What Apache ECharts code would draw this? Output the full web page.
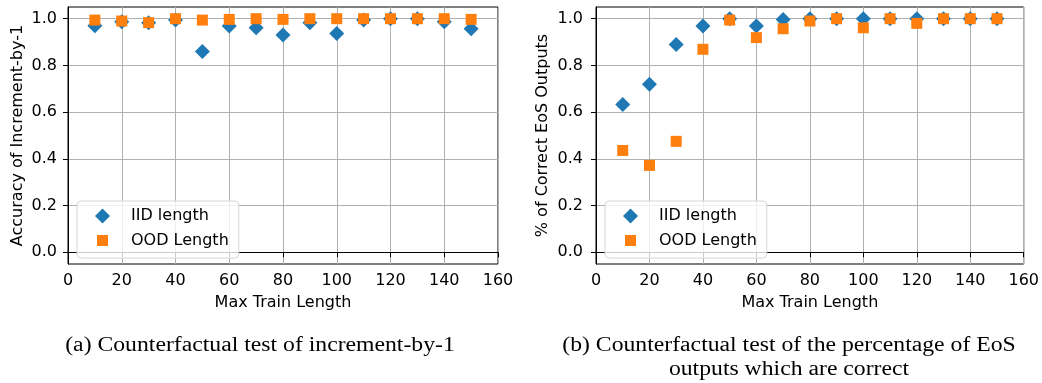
<!DOCTYPE html>
<html>
<head>
<meta charset="utf-8">
<script src="https://cdn.jsdelivr.net/npm/echarts@6/dist/echarts.min.js"></script>
<style>
	html, body { margin: 0; padding: 0; background: #fff; }
	#chart { width: 1042px; height: 383px; }
</style>
</head>
<body>
<div id="chart"></div>
<script>
const maxTrainLength = [10, 20, 30, 40, 50, 60, 70, 80, 90, 100, 110, 120, 130, 140, 150];
const yTicks = [0, 0.2, 0.4, 0.6, 0.8, 1.0];

// (a) increment-by-1 accuracy
const incIID = [0.97, 0.987, 0.983, 0.994, 0.859, 0.969, 0.961, 0.93, 0.983, 0.937, 0.994, 1.0, 1.0, 0.987, 0.957];
const incOOD = [0.994, 0.99, 0.983, 1.0, 0.994, 0.997, 1.0, 0.997, 1.0, 1.0, 1.0, 1.0, 1.0, 1.0, 0.997];

// (b) correct EoS outputs
const eosIID = [0.633, 0.719, 0.89, 0.969, 1.0, 0.969, 0.997, 1.0, 1.0, 1.0, 1.0, 1.0, 1.0, 1.0, 1.0];
const eosOOD = [0.436, 0.372, 0.475, 0.869, 0.994, 0.919, 0.957, 0.99, 1.0, 0.961, 1.0, 0.98, 1.0, 1.0, 1.0];

const BLUE = "#1f77b4";
const ORANGE = "#ff7f0e";
const FONT = "DejaVu Sans";

const pairs = ys => maxTrainLength.map((x, i) => [x, ys[i]]);

const grids = [
	{ left: 68, right: 544, top: 7, bottom: 119 },
	{ left: 596, right: 16, top: 7, bottom: 119 },
];

const xAxis = grids.map((g, i) => ({
	type: "value",
	gridIndex: i,
	min: 0,
	max: 160,
	interval: 20,
	name: "Max Train Length",
	nameLocation: "middle",
	nameGap: 31,
	nameTextStyle: { fontFamily: FONT, fontSize: 16, color: "#000" },
	axisLine: { lineStyle: { color: "#000", width: 1 } },
	axisTick: { length: 5, lineStyle: { color: "#000" } },
	axisLabel: { fontFamily: FONT, fontSize: 16, color: "#000", margin: 9, showMinLabel: true, showMaxLabel: true },
	splitLine: { show: true, lineStyle: { color: "#b0b0b0", width: 1 } },
}));

const yNames = ["Accuracy of Increment-by-1", "% of Correct EoS Outputs"];
const yAxis = grids.map((g, i) => ({
	type: "value",
	gridIndex: i,
	min: -0.05,
	max: 1.05,
	name: yNames[i],
	nameLocation: "middle",
	nameGap: i === 0 ? 42 : 45,
	nameTextStyle: { fontFamily: FONT, fontSize: 16, color: "#000" },
	axisLine: { show: true, lineStyle: { color: "#000", width: 1 } },
	axisTick: { show: true, length: 5, lineStyle: { color: "#000" }, customValues: yTicks },
	axisLabel: {
		fontFamily: FONT, fontSize: 16, color: "#000", margin: i === 0 ? 11 : 13,
		customValues: yTicks,
		formatter: v => v.toFixed(1),
	},
	splitLine: { show: true, lineStyle: { color: "#b0b0b0", width: 1 } },
}));

const mk = (name, data, i, symbol, color, size) => ({
	name,
	type: "scatter",
	xAxisIndex: i,
	yAxisIndex: i,
	symbol,
	symbolSize: size,
	clip: false,
	itemStyle: { color, opacity: 1 },
	data: pairs(data),
});

const series = [
	mk("IID length", incIID, 0, "diamond", BLUE, 15),
	mk("OOD Length", incOOD, 0, "rect", ORANGE, 11),
	mk("IID length", eosIID, 1, "diamond", BLUE, 15),
	mk("OOD Length", eosOOD, 1, "rect", ORANGE, 11),
];

const legendAt = left => ({
	left,
	top: 201,
	orient: "vertical",
	itemWidth: 15,
	itemHeight: 15,
	itemGap: 7,
	padding: [7, 10, 8, 16],
	borderColor: "#d6d6d6",
	borderWidth: 1,
	borderRadius: 4,
	backgroundColor: "rgba(255,255,255,0.8)",
	textStyle: { fontFamily: FONT, fontSize: 16, color: "#000", padding: [0, 0, 0, 16] },
	data: [
		{ name: "IID length", icon: "diamond" },
		{ name: "OOD Length", icon: "rect", itemStyle: { borderColor: "#fff", borderWidth: 4 } },
	],
});

// captions in the reference are a little wider than the serif font draws them
const captionStyle = { fontFamily: "Liberation Serif", fontSize: 20, fill: "#000", textAlign: "center", textVerticalAlign: "middle" };
const caption = (text, x, y) => ({ type: "text", x, y, scaleX: 1.185, style: { ...captionStyle, text } });

const chart = echarts.init(document.getElementById("chart"), null, { renderer: "canvas" });
chart.setOption({
	animation: false,
	backgroundColor: "#fff",
	grid: grids.map(g => ({ ...g, show: true, borderColor: "#000", borderWidth: 1, backgroundColor: "transparent" })),
	xAxis,
	yAxis,
	legend: [legendAt(77), legendAt(605)],
	series,
	graphic: [
		caption("(a) Counterfactual test of increment-by-1", 260, 346),
		caption("(b) Counterfactual test of the percentage of EoS", 789, 346),
		caption("outputs which are correct", 789, 370),
	],
});
</script>
</body>
</html>
